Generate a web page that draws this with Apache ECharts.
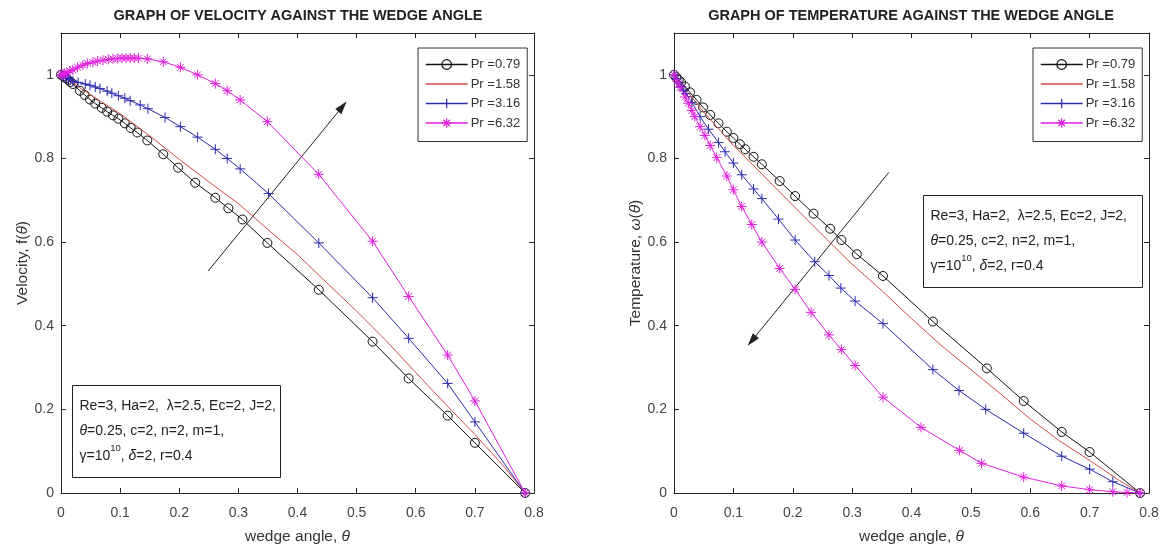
<!DOCTYPE html>
<html><head><meta charset="utf-8">
<script src="https://cdn.jsdelivr.net/npm/echarts@6/dist/echarts.min.js"></script>
<style>html,body{margin:0;padding:0;background:#fff}#c{width:1164px;height:552px}</style>
</head><body><div id="c"></div>
<script>
// ---------- data ----------
const xTicks = [0, 0.1, 0.2, 0.3, 0.4, 0.5, 0.6, 0.7, 0.8];
const yTicks = [0, 0.2, 0.4, 0.6, 0.8, 1];
const seriesNames = ['Pr =0.79', 'Pr =1.58', 'Pr =3.16', 'Pr =6.32'];

// Velocity f(theta)
const vel079 = [[0,1],[0.004,0.996],[0.008,0.992],[0.012,0.988],[0.016,0.983],[0.02,0.978],[0.032,0.962],[0.04,0.952],[0.049,0.941],[0.058,0.931],[0.069,0.921],[0.078,0.912],[0.088,0.903],[0.097,0.895],[0.108,0.884],[0.118,0.873],[0.129,0.862],[0.146,0.843],[0.173,0.81],[0.198,0.778],[0.227,0.742],[0.261,0.706],[0.283,0.681],[0.307,0.654],[0.349,0.598],[0.436,0.486],[0.527,0.362],[0.588,0.274],[0.654,0.185],[0.7,0.12],[0.785,0]];
const vel158 = [[0,1],[0.05,0.952],[0.1,0.907],[0.15,0.854],[0.2,0.798],[0.25,0.744],[0.3,0.692],[0.35,0.63],[0.4,0.57],[0.45,0.502],[0.5,0.435],[0.55,0.364],[0.6,0.288],[0.65,0.213],[0.7,0.14],[0.75,0.062],[0.785,0]];
const vel316 = [[0,1],[0.004,0.997],[0.008,0.994],[0.012,0.991],[0.016,0.988],[0.02,0.985],[0.029,0.982],[0.041,0.978],[0.049,0.975],[0.058,0.971],[0.066,0.967],[0.078,0.961],[0.086,0.956],[0.097,0.95],[0.108,0.944],[0.117,0.938],[0.134,0.928],[0.147,0.919],[0.176,0.898],[0.202,0.876],[0.231,0.851],[0.261,0.822],[0.281,0.8],[0.303,0.775],[0.351,0.716],[0.436,0.598],[0.527,0.467],[0.588,0.37],[0.654,0.262],[0.7,0.17],[0.785,0]];
const vel632 = [[0,1],[0.003,1.001],[0.006,1.003],[0.01,1.005],[0.015,1.009],[0.02,1.012],[0.028,1.018],[0.037,1.023],[0.045,1.027],[0.054,1.03],[0.062,1.033],[0.071,1.035],[0.08,1.037],[0.088,1.038],[0.096,1.039],[0.103,1.04],[0.11,1.04],[0.117,1.04],[0.124,1.04],[0.131,1.04],[0.146,1.038],[0.173,1.031],[0.202,1.018],[0.231,1.0],[0.261,0.979],[0.281,0.962],[0.303,0.94],[0.349,0.888],[0.436,0.762],[0.527,0.602],[0.588,0.47],[0.654,0.33],[0.7,0.22],[0.785,0]];

// Temperature omega(theta)
const tem079 = [[0,1],[0.004,0.994],[0.008,0.988],[0.012,0.982],[0.0185,0.972],[0.027,0.958],[0.038,0.94],[0.049,0.922],[0.061,0.904],[0.075,0.884],[0.089,0.864],[0.1,0.849],[0.111,0.834],[0.12,0.822],[0.134,0.804],[0.148,0.786],[0.178,0.746],[0.204,0.71],[0.235,0.668],[0.263,0.632],[0.282,0.605],[0.308,0.571],[0.352,0.519],[0.436,0.41],[0.527,0.298],[0.589,0.22],[0.653,0.146],[0.7,0.098],[0.785,0]];
const tem158 = [[0,1],[0.05,0.911],[0.1,0.831],[0.15,0.76],[0.2,0.688],[0.25,0.617],[0.3,0.547],[0.35,0.484],[0.4,0.417],[0.45,0.353],[0.5,0.295],[0.55,0.237],[0.6,0.177],[0.65,0.124],[0.7,0.078],[0.75,0.03],[0.785,0]];
const tem316 = [[0,1],[0.004,0.99],[0.008,0.981],[0.012,0.972],[0.016,0.963],[0.02,0.955],[0.03,0.934],[0.044,0.9],[0.058,0.87],[0.075,0.838],[0.086,0.816],[0.1,0.789],[0.114,0.761],[0.134,0.727],[0.148,0.704],[0.176,0.655],[0.204,0.605],[0.237,0.553],[0.261,0.52],[0.281,0.49],[0.305,0.459],[0.352,0.405],[0.436,0.295],[0.48,0.245],[0.525,0.2],[0.589,0.143],[0.653,0.088],[0.7,0.057],[0.739,0.027],[0.785,0]];
const tem632 = [[0,1],[0.005,0.985],[0.01,0.97],[0.0185,0.947],[0.024,0.932],[0.03,0.915],[0.035,0.9],[0.044,0.876],[0.052,0.855],[0.061,0.831],[0.072,0.802],[0.089,0.758],[0.1,0.725],[0.114,0.685],[0.131,0.642],[0.148,0.6],[0.178,0.537],[0.204,0.487],[0.231,0.432],[0.261,0.378],[0.282,0.343],[0.305,0.305],[0.352,0.229],[0.416,0.157],[0.481,0.102],[0.518,0.071],[0.589,0.038],[0.653,0.017],[0.7,0.008],[0.739,0.003],[0.763,0.001],[0.785,0]];

// annotation arrows (data coordinates: start -> head)
const velArrow = [[0.249, 0.531], [0.476, 0.924]];
const temArrow = [[0.362, 0.767], [0.131, 0.364]];

// ---------- styling ----------
const FONT = '"Liberation Sans", Arial, Helvetica, sans-serif';
const AX = '#262626';
const COLORS = ['#111111', '#d44a48', '#2b2bb0', '#e21fe0'];
const PLUS = 'path://M5,0L5,10M0,5L10,5';
const STAR = 'path://M5,0L5,10M0,5L10,5M1.6,1.6L8.4,8.4M8.4,1.6L1.6,8.4';
const SYMBOLS = ['circle', 'none', PLUS, STAR];
const SIZES = [9, 0, 10, 10];

const grids = [
  {left: 61, top: 33, width: 473, height: 460},
  {left: 674, top: 33, width: 475, height: 460}
];

const nameStyle = {fontSize: 15.5, color: '#333', fontFamily: FONT,
  rich: {i: {fontStyle: 'italic', fontSize: 15.5, color: '#333', fontFamily: FONT}}};

function xAx(gi, pos, name) {
  return {
    type: 'value', gridIndex: gi, position: pos, min: xTicks[0], max: xTicks[xTicks.length-1], interval: 0.1,
    axisLine: {show: true, onZero: false, lineStyle: {color: AX, width: 1}},
    axisTick: {show: true, inside: true, length: 5, lineStyle: {color: AX}},
    axisLabel: {show: pos === 'bottom', margin: 13, fontSize: 14, color: '#444', fontFamily: FONT},
    splitLine: {show: false},
    name: pos === 'bottom' ? name : '', nameLocation: 'middle', nameGap: 36,
    nameTextStyle: nameStyle
  };
}
function yAx(gi, pos, name) {
  return {
    type: 'value', gridIndex: gi, position: pos, min: 0, max: 1.1, interval: 0.2,
    axisLine: {show: true, onZero: false, lineStyle: {color: AX, width: 1}},
    axisTick: {show: true, inside: true, length: 5, lineStyle: {color: AX}},
    axisLabel: {show: pos === 'left', margin: 7, fontSize: 14, color: '#444', fontFamily: FONT,
      formatter: v => (yTicks.some(t => Math.abs(t - v) < 1e-9) ? String(+v.toFixed(2)) : '')},
    splitLine: {show: false},
    name: pos === 'left' ? name : '', nameLocation: 'middle', nameGap: 30,
    nameTextStyle: nameStyle
  };
}

function mkSeries(k, data, gi, arrow) {
  const s = {
    name: seriesNames[k], type: 'line', data: data,
    xAxisIndex: gi * 2, yAxisIndex: gi * 2,
    symbol: SYMBOLS[k], symbolSize: SIZES[k], showSymbol: k !== 1,
    lineStyle: {color: COLORS[k], width: 1},
    itemStyle: {color: 'rgba(0,0,0,0)', borderColor: COLORS[k], borderWidth: 1},
    emphasis: {disabled: true}, silent: true, z: 3 + k
  };
  if (arrow) {
    s.markLine = {
      silent: true, symbol: ['none', 'triangle'], symbolSize: [8, 13],
      label: {show: false}, emphasis: {disabled: true},
      lineStyle: {color: '#222', width: 1, type: 'solid'},
      data: [[{coord: arrow[0]}, {coord: arrow[1]}]]
    };
  }
  return s;
}

const velData = [vel079, vel158, vel316, vel632];
const temData = [tem079, tem158, tem316, tem632];
const series = [];
velData.forEach((d, k) => series.push(mkSeries(k, d, 0, k === 0 ? velArrow : null)));
temData.forEach((d, k) => series.push(mkSeries(k, d, 1, k === 0 ? temArrow : null)));

function legend(left) {
  return {
    data: seriesNames.map((n, k) => ({
      name: n,
      lineStyle: {color: COLORS[k], width: 1.4},
      itemStyle: k === 1
        ? {color: 'rgba(0,0,0,0)', borderColor: 'rgba(0,0,0,0)', borderWidth: 0, opacity: 0}
        : {color: 'rgba(0,0,0,0)', borderColor: COLORS[k], borderWidth: 1.2}
    })),
    orient: 'vertical', left: left, top: 48,
    padding: [10, 7, 12, 7], itemGap: 6.5, itemWidth: 42, itemHeight: 12,
    backgroundColor: '#fff', borderColor: '#333', borderWidth: 1, borderRadius: 0,
    selectedMode: false,
    textStyle: {fontSize: 13, color: '#333', fontFamily: FONT, padding: [0, 0, 0, -2]}
  };
}

const boxRich = {
  g: {fontStyle: 'italic', fontSize: 14, fontFamily: FONT, fill: '#222', lineHeight: 25},
  s: {fontSize: 9.5, fontFamily: FONT, fill: '#222', lineHeight: 25, verticalAlign: 'top', padding: [0, 0, 10, 0]}
};
const boxText = 'Re=3, Ha=2,  λ=2.5, Ec=2, J=2,\n{g|θ}=0.25, c=2, n=2, m=1,\nγ=10{s|10}, {g|δ}=2, r=0.4';

function annBox(x, y, w, h) {
  return {
    type: 'group', left: x, top: y, silent: true, z: 100,
    children: [
      {type: 'rect', shape: {x: 0, y: 0, width: w, height: h}, style: {fill: '#fff', stroke: '#222', lineWidth: 1}},
      {type: 'text', x: 7, y: 8, style: {text: boxText, rich: boxRich, fontSize: 14, fontFamily: FONT, fill: '#222', lineHeight: 25}}
    ]
  };
}

const titleStyle = {fontSize: 14.5, fontWeight: 'bold', color: '#222', fontFamily: FONT};
const option = {
  animation: false,
  backgroundColor: '#fff',
  title: [
    {text: 'GRAPH OF VELOCITY AGAINST THE WEDGE ANGLE', left: 298, top: 8, textAlign: 'center', padding: 0, textStyle: titleStyle},
    {text: 'GRAPH OF TEMPERATURE AGAINST THE WEDGE ANGLE', left: 911, top: 8, textAlign: 'center', padding: 0, textStyle: titleStyle}
  ],
  grid: grids,
  xAxis: [xAx(0, 'bottom', 'wedge angle, {i|θ}'), xAx(0, 'top', ''), xAx(1, 'bottom', 'wedge angle, {i|θ}'), xAx(1, 'top', '')],
  yAxis: [yAx(0, 'left', 'Velocity, f({i|θ})'), yAx(0, 'right', ''), yAx(1, 'left', 'Temperature, {i|ω}({i|θ})'), yAx(1, 'right', '')],
  legend: [legend(418), legend(1033)],
  series: series,
  graphic: [annBox(72, 385, 208, 92), annBox(923, 195, 219, 92)]
};

const chart = echarts.init(document.getElementById('c'), null, {renderer: 'canvas'});
chart.setOption(option);
</script></body></html>
